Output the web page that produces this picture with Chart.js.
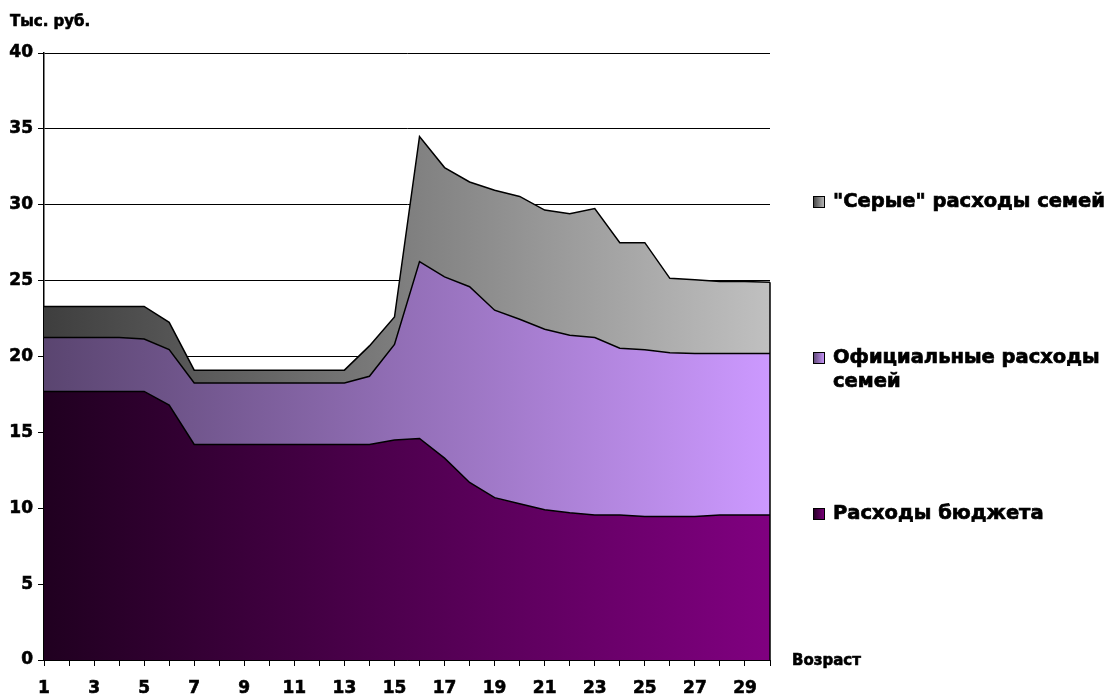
<!DOCTYPE html>
<html lang="ru">
<head>
  <meta charset="UTF-8" />
  <title>Расходы по возрасту</title>
  <script src="https://cdn.jsdelivr.net/npm/chart.js"></script>
  <style>
    body {
      margin: 0;
      background: #fff;
    }
    #wrap {
      width: 1111px;
      height: 695px;
    }
  </style>
</head>
<body>
  <div id="wrap">
    <canvas id="grafico" width="1111" height="695"></canvas>
  </div>

  <script>
    // возраст (категории)
    const ages = ['1', '2', '3', '4', '5', '6', '7', '8', '9', '10',
                  '11', '12', '13', '14', '15', '16', '17', '18', '19', '20',
                  '21', '22', '23', '24', '25', '26', '27', '28', '29', '30'];

    // тыс. руб.
    const budget = [17.7, 17.7, 17.7, 17.7, 17.7, 16.8, 14.2, 14.2, 14.2, 14.2,
                    14.2, 14.2, 14.2, 14.2, 14.5, 14.6, 13.3, 11.7, 10.7, 10.3,
                    9.9, 9.7, 9.55, 9.55, 9.45, 9.45, 9.45, 9.55, 9.55, 9.55];
    const official = [3.55, 3.55, 3.55, 3.55, 3.45, 3.65, 4.05, 4.05, 4.05, 4.05,
                      4.05, 4.05, 4.05, 4.5, 6.3, 11.65, 11.95, 12.9, 12.35, 12.15,
                      11.9, 11.7, 11.7, 11.0, 11.0, 10.8, 10.75, 10.65, 10.65, 10.65];
    const grey = [2.05, 2.05, 2.05, 2.05, 2.15, 1.8, 0.85, 0.85, 0.85, 0.85,
                  0.85, 0.85, 0.85, 2.0, 1.8, 8.25, 7.2, 6.9, 7.9, 8.1,
                  7.85, 8.0, 8.5, 6.95, 7.05, 4.9, 4.85, 4.75, 4.75, 4.7];

    const seriesNames = ['Расходы бюджета', 'Официальные расходы семей', '"Серые" расходы семей'];
    const yTicks = [0, 5, 10, 15, 20, 25, 30, 35, 40];

    const FONT = "'DejaVu Sans', Verdana, sans-serif";

    // цвета градиента: слева тёмный, справа светлый
    const shades = [
      ['#200020', '#800080'],
      ['#5a4570', '#cc99ff'],
      ['#3e3e3e', '#c0c0c0']
    ];

    function gradiente(i) {
      return function (ctx) {
        const area = ctx.chart.chartArea;
        if (!area) return shades[i][1];
        const g = ctx.chart.ctx.createLinearGradient(area.left, 0, area.right, 0);
        g.addColorStop(0, shades[i][0]);
        g.addColorStop(1, shades[i][1]);
        return g;
      };
    }

    // текст пожирнее (обводка)
    function texto(c, t, x, y) {
      c.strokeText(t, x, y);
      c.fillText(t, x, y);
    }

    // легенда и подписи осей
    const extras = {
      id: 'extras',
      afterDraw(chart) {
        const c = chart.ctx;
        const area = chart.chartArea;
        const y = chart.scales.y;
        const last = ages.length - 1;

        // правый край областей
        c.save();
        c.strokeStyle = '#000';
        c.lineWidth = 1.5;
        c.beginPath();
        c.moveTo(area.right, y.getPixelForValue(0));
        c.lineTo(area.right, y.getPixelForValue(budget[last] + official[last] + grey[last]));
        c.stroke();
        c.restore();

        c.save();
        c.fillStyle = '#000';
        c.strokeStyle = '#000';
        c.lineWidth = 0.6;
        c.textBaseline = 'middle';
        c.textAlign = 'left';
        c.font = 'bold 15px ' + FONT;
        texto(c, 'Тыс. руб.', 10, 22);
        texto(c, 'Возраст', 792, 661);

        const items = [
          { idx: 2, lines: ['"Серые" расходы семей'], y: 202 },
          { idx: 1, lines: ['Официальные расходы', 'семей'], y: 358 },
          { idx: 0, lines: ['Расходы бюджета'], y: 514 }
        ];
        c.font = 'bold 19.5px ' + FONT;
        items.forEach(it => {
          const g = c.createLinearGradient(813, 0, 825, 0);
          g.addColorStop(0, shades[it.idx][0]);
          g.addColorStop(1, shades[it.idx][1]);
          c.fillStyle = g;
          c.fillRect(813, it.y - 6, 12, 12);
          c.strokeStyle = '#000';
          c.lineWidth = 1;
          c.strokeRect(813.5, it.y - 5.5, 11, 11);
          c.fillStyle = '#000';
          c.lineWidth = 0.7;
          it.lines.forEach((t, k) => {
            texto(c, t, 833, it.y + k * 24);
          });
        });
        c.restore();
      }
    };

    new Chart(document.getElementById('grafico'), {
      type: 'line',
      data: {
        labels: ages,
        datasets: [
          {
            label: seriesNames[0],
            data: budget,
            fill: 'origin',
            backgroundColor: gradiente(0),
            borderColor: '#000',
            borderWidth: 1.5,
            pointRadius: 0,
            tension: 0
          },
          {
            label: seriesNames[1],
            data: official,
            fill: '-1',
            backgroundColor: gradiente(1),
            borderColor: '#000',
            borderWidth: 1.5,
            pointRadius: 0,
            tension: 0
          },
          {
            label: seriesNames[2],
            data: grey,
            fill: '-1',
            backgroundColor: gradiente(2),
            borderColor: '#000',
            borderWidth: 1.5,
            pointRadius: 0,
            tension: 0
          }
        ]
      },
      options: {
        responsive: false,
        animation: false,
        layout: {
          padding: { top: 53, right: 341, left: 0, bottom: 0 }
        },
        plugins: {
          legend: { display: false },
          tooltip: { enabled: false }
        },
        scales: {
          x: {
            offset: false,
            afterFit(s) { s.height = 35; },
            grid: {
              display: true,
              drawOnChartArea: false,
              drawTicks: true,
              tickLength: 6,
              color: '#000'
            },
            border: { display: true, color: '#000', width: 1 },
            ticks: {
              autoSkip: false,
              maxRotation: 0,
              padding: 12,
              color: '#000',
              textStrokeColor: '#000',
              textStrokeWidth: 0.6,
              font: { family: FONT, size: 17, weight: 'bold' },
              callback: (v, i) => (i % 2 === 0 ? ages[i] : '')
            }
          },
          y: {
            stacked: true,
            min: 0,
            max: 40,
            afterFit(s) { s.width = 44; },
            afterBuildTicks(s) { s.ticks = yTicks.map(v => ({ value: v })); },
            grid: {
              color: '#000',
              lineWidth: 1,
              tickLength: 6
            },
            border: { display: true, color: '#000', width: 1.5 },
            ticks: {
              padding: 5,
              color: '#000',
              textStrokeColor: '#000',
              textStrokeWidth: 0.6,
              font: { family: FONT, size: 17, weight: 'bold' }
            }
          }
        }
      },
      plugins: [extras]
    });
  </script>
</body>
</html>
